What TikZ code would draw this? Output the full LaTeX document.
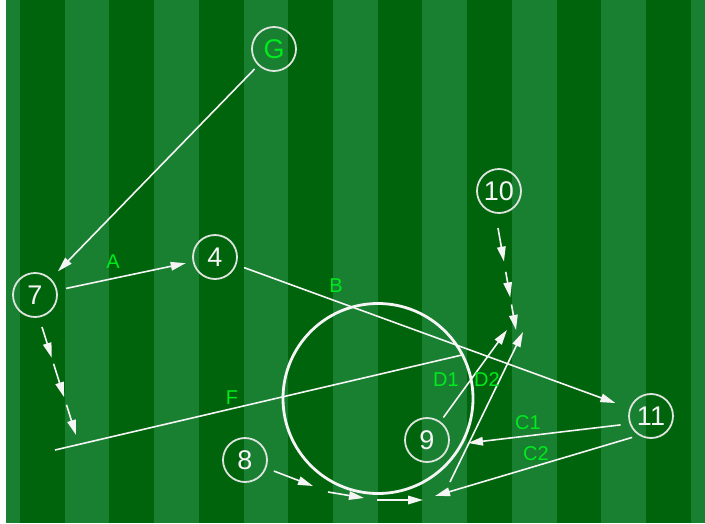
\documentclass[tikz,border=0pt]{standalone}
\usepackage{fontspec}
\setmainfont{Liberation Sans}
\usetikzlibrary{arrows.meta,calc}
\definecolor{fielddark}{RGB}{0,100,12}
\definecolor{fieldlight}{RGB}{24,128,48}
\definecolor{lblgreen}{RGB}{0,235,30}
\definecolor{linewhite}{RGB}{245,245,245}
\definecolor{ringgray}{RGB}{222,228,222}
\begin{document}
\begin{tikzpicture}[x=1pt,y=-1pt,
  player/.style={circle,draw=ringgray,line width=1.8pt,minimum size=44pt,inner sep=0pt,text=linewhite,font=\fontsize{27}{27}\selectfont},
  arr/.style={draw=linewhite,line width=1.6pt,-{Triangle[length=15pt,width=8.5pt]}},
  plainline/.style={draw=linewhite,line width=1.6pt},
  lbl/.style={text=lblgreen,font=\fontsize{20}{20}\selectfont,inner sep=0pt}]
\useasboundingbox (0,0) rectangle (705,523);
\fill[white] (0,0) rectangle (705,523);
\fill[fieldlight] (6,0) rectangle (705,523);
\foreach \k in {0,...,7} \fill[fielddark] ({20+89.43*\k},0) rectangle ({64.7+89.43*\k},523);
% centre circle
\node[circle,draw=linewhite,line width=2.8pt,minimum size=190pt,inner sep=0pt] (ring) at (378,398.5) {};
% players
\node[player,text=lblgreen] (G) at (274,49) {G};
\node[player] (n4) at (215,257) {4};
\node[player] (n7) at (35,295) {7};
\node[player] (n10) at (499,191) {10};
\node[player] (n11) at (651,416) {11};
\node[player] (n9) at (427,440) {9};
\node[player] (n8) at (245,460) {8};
% free points
\coordinate (c1e) at (468,443);
\coordinate (c2e) at (435,496);
\coordinate (d1e) at (507,330);
\coordinate (d2s) at (450,482);
\coordinate (d2e) at (523,332);
\coordinate (fs) at (55,450);
\coordinate (fe) at (462,355);
\coordinate (r7s) at (42,327);
\coordinate (r7e) at (76,435);
\coordinate (r10s) at (498,228);
\coordinate (r10e) at (516,330);
\coordinate (b1e) at (313,486);
\coordinate (b2s) at (328,492);
\coordinate (b2e) at (364,498);
\coordinate (b3s) at (377,500);
\coordinate (b3e) at (423,500);
% connectors
\draw[arr, shorten <=5pt, shorten >=10pt] (G) -- (n7);
\draw[arr, shorten <=9pt, shorten >=7pt] (n7) -- (n4);
\draw[arr, shorten <=8pt, shorten >=15pt] (n4) -- (n11);
\draw[arr, shorten <=9pt] (n11.200) -- (c1e);
\draw[arr, shorten <=7pt] (n11.238) -- (c2e);
\draw[arr, shorten <=5pt] (n9) -- (d1e);
\draw[arr] (d2s) -- (d2e);
\draw[plainline] (fs) -- (fe);
\draw[arr] (r7s) -- ($(r7s)!0.285!(r7e)$);
\draw[arr] ($(r7s)!0.34!(r7e)$) -- ($(r7s)!0.65!(r7e)$);
\draw[arr] ($(r7s)!0.72!(r7e)$) -- (r7e);
\draw[arr] (r10s) -- ($(r10s)!0.33!(r10e)$);
\draw[arr] ($(r10s)!0.43!(r10e)$) -- ($(r10s)!0.68!(r10e)$);
\draw[arr] ($(r10s)!0.75!(r10e)$) -- (r10e);
\draw[arr, shorten <=8pt] (n8) -- (b1e);
\draw[arr] (b2s) -- (b2e);
\draw[arr] (b3s) -- (b3e);
% labels
\node[lbl] (lA) at (113,262) {A};
\node[lbl] (lB) at (336,286) {B};
\node[lbl] (lF) at (232,398) {F};
\node[lbl] (lD1) at (446,380) {D1};
\node[lbl] (lD2) at (487,380) {D2};
\node[lbl] (lC1) at (528,423) {C1};
\node[lbl] (lC2) at (536,454) {C2};
\end{tikzpicture}
\end{document}
